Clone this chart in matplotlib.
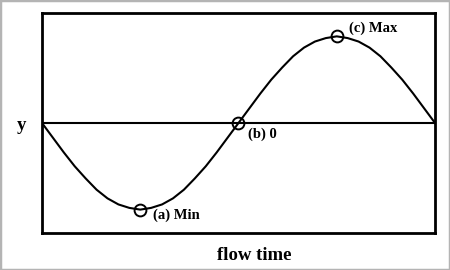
import matplotlib
matplotlib.use('Agg')
import matplotlib.pyplot as plt
from matplotlib.patches import Rectangle

# flow time in degrees of one cycle, y
flow_time = [0, 10, 20, 30, 40, 50, 60, 70, 80, 90, 100, 110, 120, 130, 140, 150, 160, 170, 180,
             190, 200, 210, 220, 230, 240, 250, 260, 270, 280, 290, 300, 310, 320, 330, 340, 350, 360]
y_vals = [0.0, -0.17, -0.34, -0.5, -0.64, -0.77, -0.87, -0.94, -0.98, -1.0, -0.98, -0.94, -0.87,
          -0.77, -0.64, -0.5, -0.34, -0.17, 0.0, 0.17, 0.34, 0.5, 0.64, 0.77, 0.87, 0.94, 0.98,
          1.0, 0.98, 0.94, 0.87, 0.77, 0.64, 0.5, 0.34, 0.17, 0.0]

point_x = [90, 180, 270]
point_y = [-1.0, 0.0, 1.0]
point_labels = ["(a) Min", "(b) 0", "(c) Max"]

plt.rcParams['font.family'] = ['Liberation Serif', 'DejaVu Serif']

fig = plt.figure(figsize=(4.5, 2.7), dpi=100)
ax = fig.add_axes([0.0933, 0.137, 0.8734, 0.815])

ax.plot(flow_time, y_vals, color='black', linewidth=1.5)
ax.axhline(0, color='black', linewidth=1.5)
ax.plot(point_x, point_y, linestyle='none', marker='o', markersize=8.5,
        markerfacecolor='none', markeredgecolor='black', markeredgewidth=1.4)

offsets = [(9, -4), (7, -8), (9, 6)]
for px, py, lab, off in zip(point_x, point_y, point_labels, offsets):
    ax.annotate(lab, (px, py), xytext=off, textcoords='offset points',
                fontsize=10.5, fontweight='bold', ha='left', va='center')

ax.set_xlim(0, 360)
ax.set_ylim(-1.27, 1.27)
ax.set_xticks([])
ax.set_yticks([])
for s in ax.spines.values():
    s.set_linewidth(2)

fig.text(0.566, 0.052, "flow time", fontsize=13.5, fontweight='bold', ha='center', va='center')
fig.text(0.047, 0.535, "y", fontsize=13.5, fontweight='bold', ha='center', va='center')

fig.patches.append(Rectangle((0, 0), 1, 1, transform=fig.transFigure, fill=False,
                             edgecolor='#b4b4b4', linewidth=2.5))

fig.savefig('out.png', dpi=100)
